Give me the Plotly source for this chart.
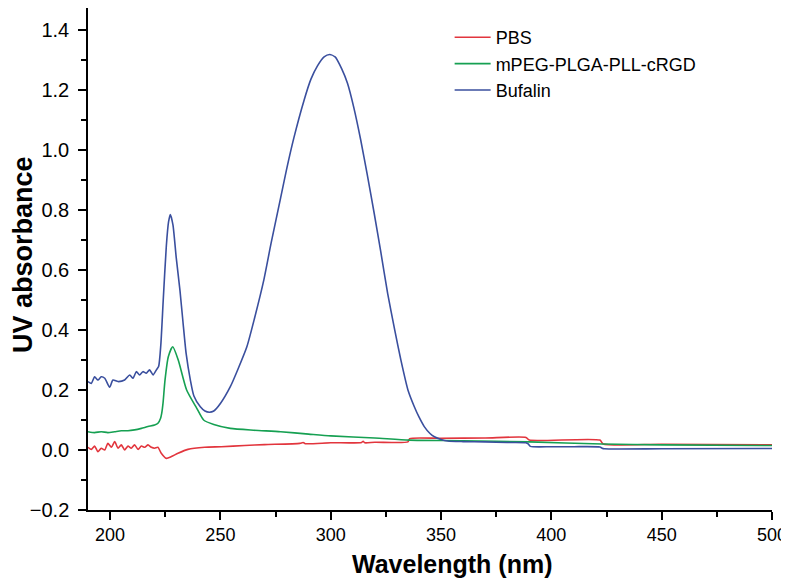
import plotly.graph_objects as go

# ---------------- data ----------------
pbs_x = [190, 191.5, 193, 194.5, 196, 197.6, 199, 200.6, 202.1, 203.6, 205.1, 206.6, 208.1, 209.6,
         211.1, 212.7, 214.2, 215.7, 217.2, 218.7, 220.2, 221.7, 223.2, 225.5, 227.8, 230.8, 235.3,
         242.9, 250.4, 261, 270, 286, 287.5, 288.5, 300, 314, 314.7, 315.5, 320, 335, 335.8, 350, 370,
         388.5, 390, 422, 423.5, 450, 500]
pbs_y = [0.009, 0.002, 0.013, -0.006, 0.006, 0.0, 0.022, 0.009, 0.028, 0.006, 0.017, 0.0, 0.013, 0.006,
         0.017, 0.002, 0.013, 0.009, 0.017, 0.009, 0.006, 0.009, -0.011, -0.028, -0.022, -0.011, 0.002,
         0.009, 0.011, 0.015, 0.018, 0.022, 0.025, 0.021, 0.024, 0.025, 0.029, 0.024, 0.026, 0.027, 0.038, 0.039, 0.040,
         0.042, 0.033, 0.033, 0.020, 0.019, 0.017]

peg_x = [190, 193, 196, 199, 202.1, 205.1, 208.1, 211.1, 214.2, 217.2, 220.2, 221.7, 222.9, 223.4,
         224, 224.9, 226.4, 228.4, 230.9, 234.7, 239.3, 242.4, 247, 254.5, 265, 277.3, 290, 300,
         320, 335.6, 360, 390, 423, 450, 500]
peg_y = [0.061, 0.058, 0.061, 0.058, 0.061, 0.064, 0.064, 0.067, 0.072, 0.078, 0.083, 0.089, 0.106, 0.122,
         0.156, 0.233, 0.311, 0.344, 0.300, 0.200, 0.139, 0.100, 0.085, 0.072, 0.066, 0.061, 0.053, 0.047,
         0.040, 0.033, 0.031, 0.027, 0.020, 0.017, 0.015]

buf_x = [190, 191.5, 193, 194.5, 196, 197.6, 199.8, 201.3, 203.6, 206.6, 208.9, 210.4, 211.9, 213.4,
         214.9, 216.4, 217.9, 219.5, 221, 222, 223, 224.1, 225.5, 226.5, 227.3, 228.5, 230, 231.7, 233,
         234.5, 236.4, 238, 240.9, 243, 245, 247, 250, 254.5, 258, 262, 265.5, 269.7, 273, 277.3, 280,
         283.3, 287.9, 291, 294, 297, 299.5, 302, 305, 307.6, 310.5, 313.6, 316.5, 319.7, 322.7,
         325.8, 329, 331.8, 335, 337.9, 340, 342.4, 345, 347, 350, 353, 360, 370, 380, 388.5,
         389.5, 390.5, 400, 410, 422, 423, 424, 450, 500]
buf_y = [0.228, 0.222, 0.244, 0.233, 0.244, 0.239, 0.209, 0.233, 0.228, 0.233, 0.250, 0.239, 0.261, 0.250,
         0.261, 0.256, 0.267, 0.250, 0.267, 0.278, 0.350, 0.500, 0.680, 0.760, 0.785, 0.750, 0.640, 0.530, 0.430,
         0.320, 0.233, 0.180, 0.144, 0.130, 0.126, 0.130, 0.155, 0.211, 0.270, 0.344, 0.440, 0.567, 0.690, 0.840, 0.935,
         1.040, 1.165, 1.235, 1.280, 1.310, 1.318, 1.310, 1.270, 1.222, 1.140, 1.033, 0.920, 0.789, 0.660,
         0.522, 0.400, 0.300, 0.200, 0.144, 0.110, 0.078, 0.055, 0.044, 0.035, 0.030, 0.028, 0.027, 0.025, 0.024,
         0.020, 0.012, 0.011, 0.011, 0.010, 0.006, 0.004, 0.004, 0.005]

names = ["PBS", "mPEG-PLGA-PLL-cRGD", "Bufalin"]
colors = ["#E2353D", "#16A052", "#3A4F9E"]

x_title = "Wavelength (nm)"
y_title = "UV absorbance"

FONT = "Arial, Liberation Sans, sans-serif"

fig = go.Figure()
for xs, ys, nm, c in zip([pbs_x, peg_x, buf_x], [pbs_y, peg_y, buf_y], names, colors):
    fig.add_trace(go.Scatter(x=xs, y=ys, mode="lines", name=nm,
                             line=dict(color=c, width=1.6, shape="spline", smoothing=0.6)))

axis_common = dict(showline=True, linecolor="black", linewidth=1.5, ticks="outside",
                   ticklen=8, tickwidth=1.5, tickcolor="black", showgrid=False, zeroline=False,
                   mirror=False)

fig.update_xaxes(range=[190, 500], dtick=50, tick0=200,
                 tickfont=dict(family=FONT, size=18, color="black"),
                 minor=dict(ticks="outside", ticklen=5, tickwidth=1.5, tickcolor="black", dtick=25, tick0=200),
                 **axis_common)
fig.update_yaxes(range=[-0.2, 1.473], dtick=0.2, tick0=0, tickformat=".1f", ticklabelstandoff=5,
                 tickfont=dict(family=FONT, size=20, color="black"),
                 minor=dict(ticks="outside", ticklen=5, tickwidth=1.5, tickcolor="black", dtick=0.1, tick0=0),
                 **axis_common)

# plot area: page x 88..772, page y 0..510 (page is offset by the 8px body margin)
PL, PR, PT, PB = 80, 764, 0, 502
W, H = 781, 574

fig.add_annotation(text="<b>" + x_title + "</b>", xref="paper", yref="paper",
                   x=(452 - 8 - PL) / (PR - PL), y=-(564 - 8 - PB) / (PB - PT),
                   xanchor="center", yanchor="middle", showarrow=False,
                   font=dict(family=FONT, size=25, color="black"))
fig.add_annotation(text="<b>" + y_title + "</b>", xref="paper", yref="paper",
                   x=-(PL - (23 - 8)) / (PR - PL), y=(PB - (255 - 8)) / (PB - PT),
                   xanchor="center", yanchor="middle", textangle=-90, showarrow=False,
                   font=dict(family=FONT, size=27, color="black"))

fig.update_layout(
    width=W, height=H,
    margin=dict(l=PL, r=W - PR, t=PT, b=H - PB),
    paper_bgcolor="white", plot_bgcolor="white",
    showlegend=True,
    legend=dict(x=0.5287, y=0.978, xanchor="left", yanchor="top", bgcolor="rgba(0,0,0,0)",
                font=dict(family=FONT, size=18, color="black"), tracegroupgap=0, itemwidth=36),
)

fig.write_html("out.html")
